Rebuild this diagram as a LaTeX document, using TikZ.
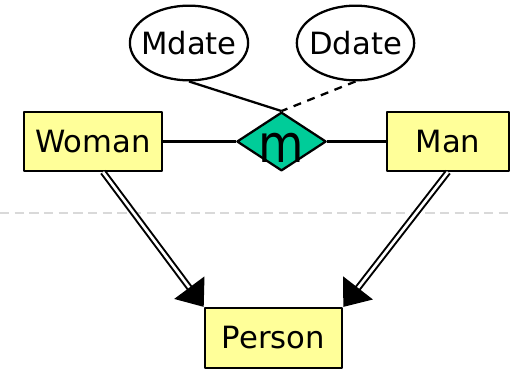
\documentclass[tikz,border=0pt]{standalone}
\usepackage{fontspec}
\usepackage{graphicx}
\setmainfont{DejaVu Sans}
\usetikzlibrary{shapes.geometric,arrows.meta,calc}
\definecolor{entfill}{HTML}{FFFF99}
\definecolor{relfill}{HTML}{00CC99}
\tikzset{
  entity/.style={draw, line width=1.7pt, fill=entfill, inner sep=0pt, minimum height=44pt},
  attrib/.style={draw, ellipse, line width=1.7pt, inner xsep=-4.5pt, inner ysep=0pt, minimum width=88pt, minimum height=56pt},
  relship/.style={draw, diamond, line width=1.7pt, fill=relfill, inner sep=0pt, minimum width=67pt, minimum height=44pt},
  isa/.style={double, double distance=2pt, line width=1.5pt, -{Triangle[length=18pt,width=28pt]}},
}
\begin{document}
\begin{tikzpicture}[x=0.75pt, y=-0.75pt, font=\fontsize{23}{27}\selectfont, line join=round]
	\useasboundingbox (0,0) rectangle (510,376);
	% faint rule across the middle
	\draw[gray!30, line width=2pt, dash pattern=on 7pt off 4pt] (0,213) -- (510,213);
	% entities
	\node[entity, minimum width=103.5pt] (woman) at (93,141.5) {Woman};
	\node[entity, minimum width=91.5pt] (man) at (448,141.5) {Man};
	\node[entity, minimum width=103pt, minimum height=45pt] (person) at (273.5,338) {Person};
	% relationship and its attributes
	\node[relship, label={[yshift=-5pt, font=\fontsize{35}{40}\selectfont]center:\scalebox{1}[1.12]{m}}] (marr) at (281.5,141.5) {};
	\node[attrib] (mdate) at (189,43) {Mdate};
	\node[attrib] (ddate) at (355.5,43) {Ddate};
	\draw[line width=1.7pt] (woman) -- (marr);
	\draw[line width=1.7pt] (marr) -- (man);
	\draw[line width=1.7pt] (mdate.south) -- (marr.north);
	\draw[line width=1.7pt, dash pattern=on 6pt off 5pt] (ddate.south) -- (marr.north);
	% is-a links
	\draw[isa] ($(woman.south)+(10,0)$) -- (person.north west);
	\draw[isa] (man.south) -- (person.north east);
\end{tikzpicture}
\end{document}
